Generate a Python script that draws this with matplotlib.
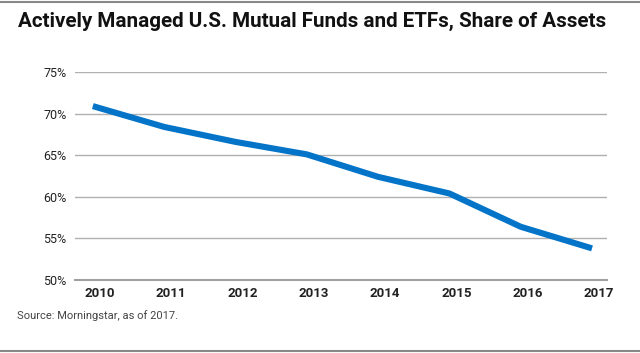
import matplotlib
matplotlib.use("Agg")
import matplotlib.pyplot as plt
import matplotlib.transforms as mtransforms

years = ["2010", "2011", "2012", "2013", "2014", "2015", "2016", "2017"]
share = [70.9, 68.4, 66.6, 65.1, 62.4, 60.4, 56.4, 53.8]
yticks = [50, 55, 60, 65, 70, 75]
title = "Actively Managed U.S. Mutual Funds and ETFs, Share of Assets"
source = "Source: Morningstar, as of 2017."

fam = "Roboto"

fig = plt.figure(figsize=(6.4, 3.53), dpi=100)
ax = fig.add_axes([75/640, 1-280/353, (607-75)/640, (280-72)/353])

x = list(range(len(years)))
ax.plot(x, share, color="#0474c8", lw=4.4, solid_capstyle="butt", solid_joinstyle="round", zorder=3)
ax.set_xlim(-0.25, 7.21)
ax.set_ylim(50, 75)
ax.set_yticks(yticks)
ax.set_yticklabels([f"{v}%" for v in yticks], fontsize=9, color="#222222", family=fam)
ax.set_xticks(x)
ax.set_xticklabels(years, fontsize=9.5, fontweight="bold", color="#222222", family=fam)
ax.grid(axis="y", color="#b0b0b0", lw=1)
ax.set_axisbelow(True)
for s in ["top", "right", "left"]:
    ax.spines[s].set_visible(False)
ax.spines["bottom"].set_color("#a0a0a0")
ax.spines["bottom"].set_linewidth(1.5)
ax.tick_params(axis="both", length=0)
ax.tick_params(axis="y", pad=6)
ax.tick_params(axis="x", pad=5)
off = mtransforms.ScaledTranslation(7/100, 0, fig.dpi_scale_trans)
for lab in ax.get_xticklabels():
    lab.set_transform(lab.get_transform() + off)

fig.text(18/640, 1-21/353, title, fontsize=14.9, fontweight="bold", family=fam,
         color="#111111", va="center", ha="left")
fig.text(17/640, 1-316/353, source, fontsize=8, family=fam, color="#444444",
         va="center", ha="left")
fig.add_artist(plt.Line2D([0, 1], [1-2/353, 1-2/353], color="#888888", lw=1.5, transform=fig.transFigure))
fig.add_artist(plt.Line2D([0, 1], [1-351/353, 1-351/353], color="#888888", lw=1.5, transform=fig.transFigure))

fig.savefig("out.png", dpi=100)
